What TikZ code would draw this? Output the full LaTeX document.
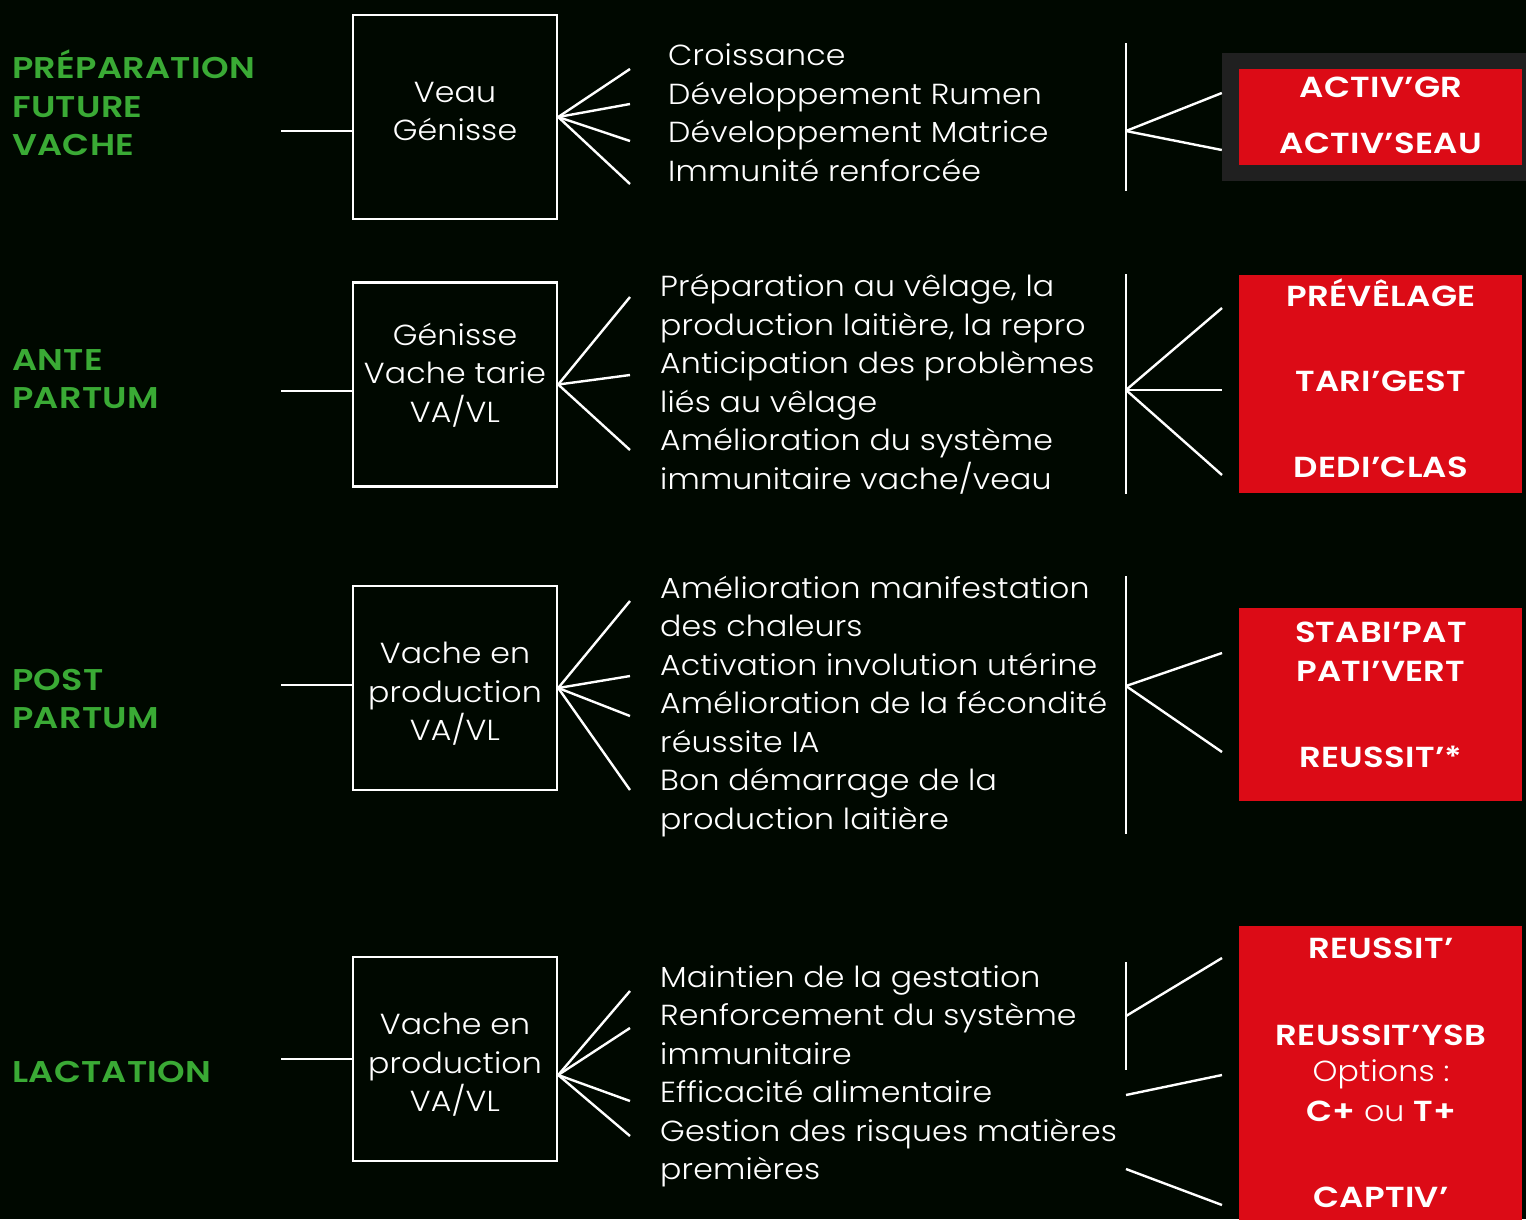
\documentclass[tikz,border=0pt]{standalone}
\usepackage{fontspec}
\IfFontExistsTF{Poppins Light}
  {\setmainfont{Poppins Light}[BoldFont=Poppins Bold, FakeStretch=1.09, LetterSpace=0.5]}
  {\setmainfont{Poppins}[FakeStretch=1.09, LetterSpace=0.5]}
\IfFontExistsTF{Poppins SemiBold}
  {\newfontfamily\boldfam{Poppins SemiBold}[FakeStretch=1.17, LetterSpace=1]}
  {\newfontfamily\boldfam{Poppins Bold}[FakeStretch=1.16]}
\definecolor{bg}{HTML}{000800}
\definecolor{lgreen}{HTML}{3AAA35}
\definecolor{pred}{HTML}{DC0B16}
\definecolor{pgray}{HTML}{202020}
\newcommand{\bodyfont}{\fontsize{29}{38.5}\selectfont}
\newcommand{\labfont}{\boldfam\fontsize{30}{38.5}\selectfont}
\newcommand{\prodfont}{\boldfam\fontsize{29}{38.5}\selectfont}
\begin{document}
\begin{tikzpicture}[x=1pt,y=-1pt,
  stagebox/.style={draw=white, line width=2.4pt, minimum width=204pt, minimum height=204pt, inner sep=0pt},
  stagetxt/.style={text=white, font=\bodyfont, align=center, inner sep=0pt},
  labtxt/.style={text=lgreen, font=\labfont, align=left, anchor=west, inner sep=0pt},
  desctxt/.style={text=white, font=\bodyfont, align=left, anchor=west, inner sep=0pt},
  prodbox/.style={fill=pred, inner sep=0pt},
  prodtxt/.style={text=white, font=\prodfont, inner sep=0pt},
  wire/.style={draw=white, line width=2.4pt}]
\fill[bg] (0,0) rectangle (1526,1219);
\useasboundingbox (0,0) rectangle (1526,1219);

% green stage labels
\node[labtxt] (l1) at (12,103) {PRÉPARATION\\FUTURE\\VACHE};
\node[labtxt] (l2) at (12,379) {ANTE\\PARTUM};
\node[labtxt] (l3) at (12,699) {POST\\PARTUM};
\node[labtxt] (l4) at (12,1072) {LACTATION};

% stage boxes
\node[stagebox] (b1) at (455,117) {};
\node[stagebox] (b2) at (455,384.5) {};
\node[stagebox] (b3) at (455,688) {};
\node[stagebox] (b4) at (455,1059) {};
\node[stagetxt] (t1) at (455,111.5) {Veau\\Génisse};
\node[stagetxt] (t2) at (455,375) {Génisse\\Vache tarie\\VA/VL};
\node[stagetxt] (t3) at (455,694) {Vache en\\production\\VA/VL};
\node[stagetxt] (t4) at (455,1065) {Vache en\\production\\VA/VL};

% left connectors
\coordinate (s1) at (281,131);
\coordinate (s2) at (281,391);
\coordinate (s3) at (281,685);
\coordinate (s4) at (281,1059);
\draw[wire] (s1) -- (b1.west |- s1);
\draw[wire] (s2) -- (b2.west |- s2);
\draw[wire] (s3) -- (b3.west |- s3);
\draw[wire] (s4) -- (b4.west |- s4);

% descriptions
\node[desctxt] (d1) at (668,112.5) {Croissance\\Développement Rumen\\Développement Matrice\\Immunité renforcée};
\node[desctxt] (d2) at (660,384) {Préparation au vêlage, la\\production laitière, la repro\\Anticipation des problèmes\\liés au vêlage\\Amélioration du système\\immunitaire vache/veau};
\node[desctxt] (d3) at (660,706.5) {Amélioration manifestation\\des chaleurs\\Activation involution utérine\\Amélioration de la fécondité\\réussite IA\\Bon démarrage de la\\production laitière};
\node[desctxt] (d4) at (660,1076.5) {Maintien de la gestation\\Renforcement du système\\immunitaire\\Efficacité alimentaire\\Gestion des risques matières\\premières};

% fans from boxes
\coordinate (o1) at (b1.east);
\coordinate (o2) at (b2.east);
\coordinate (o3) at (b3.east);
\coordinate (o4) at ([yshift=-16pt]b4.east);
\foreach \y [count=\i] in {69,104,141,184} {\coordinate (fa\i) at (630,\y); \draw[wire] (o1) -- (fa\i);}
\foreach \y [count=\i] in {297,375,450} {\coordinate (fb\i) at (630,\y); \draw[wire] (o2) -- (fb\i);}
\foreach \y [count=\i] in {601,676,716,790} {\coordinate (fc\i) at (630,\y); \draw[wire] (o3) -- (fc\i);}
\foreach \y [count=\i] in {991,1028,1101,1136} {\coordinate (fd\i) at (630,\y); \draw[wire] (o4) -- (fd\i);}

% products
\node[fill=pgray, minimum width=304pt, minimum height=128pt, inner sep=0pt] (g1) at (1374,117) {};
\node[prodbox, minimum width=283pt, minimum height=96pt] (p1) at (1380.5,117) {};
\node[prodbox, minimum width=283pt, minimum height=218pt] (p2) at (1380.5,384) {};
\node[prodbox, minimum width=283pt, minimum height=193pt] (p3) at (1380.5,704.5) {};
\node[prodbox, minimum width=283pt, minimum height=300pt] (p4) at (1380.5,1076) {};

\node[prodtxt] (n11) at (1381,87) {ACTIV’GR};
\node[prodtxt] (n12) at (1381,143) {ACTIV’SEAU};
\node[prodtxt] (n21) at (1381,293) {PRÉVÊLAGE};
\node[prodtxt] (n22) at (1381,381) {TARI’GEST};
\node[prodtxt] (n23) at (1381,467) {DEDI’CLAS};
\node[prodtxt] (n31) at (1381,632) {STABI’PAT};
\node[prodtxt] (n32) at (1381,671) {PATI’VERT};
\node[prodtxt] (n33) at (1381,757) {REUSSIT’*};
\node[prodtxt] (n41) at (1381,948) {REUSSIT’};
\node[prodtxt] (n42) at (1381,1035) {REUSSIT’YSB};
\node[prodtxt, font=\bodyfont] (n43) at (1381,1074) {Options :};
\node[prodtxt, font=\bodyfont] (n44) at (1381,1111) {{\boldfam C+} ou {\boldfam T+}};
\node[prodtxt] (n45) at (1381,1197) {CAPTIV’};

% right connectors
\coordinate (v1a) at (1126,43);  \coordinate (v1b) at (1126,191);
\coordinate (v2a) at (1126,274); \coordinate (v2b) at (1126,494);
\coordinate (v3a) at (1126,576); \coordinate (v3b) at (1126,834);
\coordinate (v4a) at (1126,962); \coordinate (v4b) at (1126,1070);
\draw[wire] (v1a) -- (v1b);
\draw[wire] (v2a) -- (v2b);
\draw[wire] (v3a) -- (v3b);
\draw[wire] (v4a) -- (v4b);
\coordinate (r1) at (1126,131);
\coordinate (r2) at (1126,390);
\coordinate (r3) at (1126,686);
\coordinate (r4) at (1126,1016);
\draw[wire] (r1) -- (g1.west |- 0,93);
\draw[wire] (r1) -- (g1.west |- 0,150);
\foreach \y [count=\i] in {308,390,475} {\coordinate (eb\i) at (1222,\y); \draw[wire] (r2) -- (eb\i);}
\foreach \y [count=\i] in {653,752} {\coordinate (ec\i) at (1222,\y); \draw[wire] (r3) -- (ec\i);}
\coordinate (ed1) at (1222,958);
\draw[wire] (r4) -- (ed1);
\coordinate (q1) at (1126,1095); \coordinate (ed2) at (1222,1075);
\coordinate (q2) at (1126,1169); \coordinate (ed3) at (1222,1205);
\draw[wire] (q1) -- (ed2);
\draw[wire] (q2) -- (ed3);
\end{tikzpicture}
\end{document}
